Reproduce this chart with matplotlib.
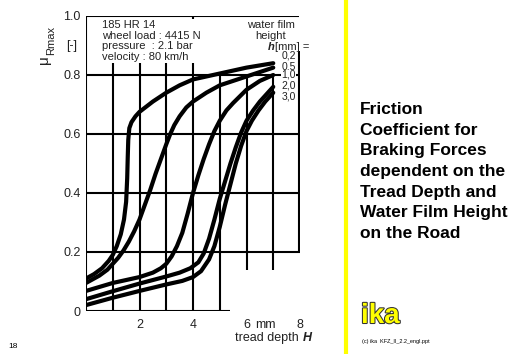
import numpy as np
import matplotlib.pyplot as plt
import matplotlib.patheffects as pe

plt.rcParams['font.family'] = ['Liberation Sans', 'DejaVu Sans']

# water film height labels (legend, top right)
film_labels = ['0,2', '0,5', '1,0', '2,0', '3,0']

# curves: tread depth H [mm] -> mu_Rmax [-]
depth_02 = [0, 0.3, 0.6, 0.85, 1.0, 1.15, 1.3, 1.42, 1.5, 1.54, 1.56, 1.58, 1.62, 1.7, 1.85,
            2.0, 2.5, 3.0, 3.5, 4.0, 5.0, 6.0, 7.0]
mu_02 = [0.11, 0.125, 0.145, 0.17, 0.19, 0.22, 0.26, 0.31, 0.37, 0.45, 0.52, 0.58, 0.62, 0.64, 0.66,
         0.675, 0.71, 0.74, 0.765, 0.785, 0.805, 0.825, 0.84]

depth_05 = [0, 0.5, 0.8, 1.0, 1.2, 1.4, 1.6, 1.8, 2.0, 2.2, 2.4, 2.6, 2.8, 3.0, 3.15, 3.3, 3.5,
            3.75, 4.0, 4.5, 5.0, 5.5, 6.0, 6.5, 7.0]
mu_05 = [0.095, 0.12, 0.14, 0.16, 0.18, 0.205, 0.235, 0.27, 0.31, 0.36, 0.41, 0.465, 0.515, 0.565,
         0.6, 0.63, 0.66, 0.69, 0.71, 0.74, 0.765, 0.78, 0.795, 0.81, 0.825]

depth_10 = [0, 1, 2, 2.5, 2.8, 3.0, 3.2, 3.4, 3.6, 3.8, 4.0, 4.2, 4.4, 4.6, 4.8, 5.0, 5.25, 5.5,
            6.0, 6.5, 7.0]
mu_10 = [0.068, 0.095, 0.115, 0.13, 0.145, 0.16, 0.185, 0.22, 0.265, 0.33, 0.4, 0.46, 0.515, 0.565,
         0.61, 0.645, 0.68, 0.705, 0.75, 0.78, 0.80]

depth_20 = [0, 1, 2, 3, 3.5, 3.9, 4.2, 4.4, 4.6, 4.8, 5.0, 5.2, 5.4, 5.6, 5.8, 6.0, 6.25, 6.5,
            6.75, 7.0]
mu_20 = [0.04, 0.067, 0.093, 0.117, 0.13, 0.145, 0.165, 0.195, 0.245, 0.31, 0.38, 0.44, 0.5, 0.555,
         0.605, 0.645, 0.68, 0.71, 0.735, 0.76]

depth_30 = [0, 1, 2, 3, 3.6, 4.0, 4.3, 4.6, 4.8, 5.0, 5.2, 5.4, 5.6, 5.8, 6.0, 6.2, 6.45, 6.7, 7.0]
mu_30 = [0.02, 0.045, 0.068, 0.09, 0.102, 0.115, 0.135, 0.175, 0.22, 0.285, 0.36, 0.43, 0.5, 0.56,
         0.61, 0.645, 0.68, 0.71, 0.74]

x_ticks = [2, 4, 6, 8]
y_ticks = [0, 0.2, 0.4, 0.6, 0.8, 1.0]
y_ticklabels = ['0', '0.2', '0.4', '0.6', '0.8', '1.0']

fig = plt.figure(figsize=(5.12, 3.54), dpi=100)
ax = fig.add_axes([86 / 512, 43 / 354, 214 / 512, 295 / 354])
ax.set_xlim(0, 8)
ax.set_ylim(0, 1)
for s in ax.spines.values():
    s.set_visible(False)

# grid / frame as in the scan
lw = 1.5
for yy in [0.2, 0.4, 0.6, 0.8]:
    ax.hlines(yy, 0, 8, color='black', lw=lw)
ax.hlines(1.0, 0, 7.95, color='black', lw=lw)
ax.hlines(0, 0, 5.4, color='black', lw=lw)
ax.vlines(0, 0, 1, color='black', lw=lw)
ax.vlines([1, 2, 3], 0, 0.845, color='black', lw=lw)
ax.vlines(4, 0, 0.845, color='black', lw=lw)
ax.vlines(4, 0.965, 1.0, color='black', lw=lw)
ax.vlines(5, 0, 0.8, color='black', lw=lw)
ax.vlines([6, 7], 0.14, 0.8, color='black', lw=lw)
ax.vlines(7.95, 0.2, 0.88, color='black', lw=lw)

curves = [(depth_02, mu_02), (depth_05, mu_05), (depth_10, mu_10),
          (depth_20, mu_20), (depth_30, mu_30)]
for d, m in curves:
    ax.plot(d, m, color='black', lw=3, solid_capstyle='round', solid_joinstyle='round', zorder=3)

ax.set_xticks(x_ticks)
ax.set_yticks(y_ticks)
ax.set_yticklabels(y_ticklabels)
ax.tick_params(length=0, labelsize=9, colors='#222222', pad=4)
ax.tick_params(axis='x', pad=6)
ax.text(6.7, -0.027, 'mm', ha='center', va='top', fontsize=9, color='#222222')
ax.text(8.1, -0.071, 'tread depth ', ha='right', va='top', fontsize=9, color='#222222')
ax.text(8.12, -0.071, 'H', ha='left', va='top', fontsize=9,
        fontweight='bold', fontstyle='italic', color='#222222')

# text blocks
ax.text(0.6, 0.985, '185 HR 14\nwheel load : 4415 N\npressure  : 2.1 bar\nvelocity : 80 km/h',
        ha='left', va='top', fontsize=8, linespacing=1.05, color='#222222', zorder=4,
        bbox=dict(facecolor='white', edgecolor='none', pad=1))
ax.text(7.8, 0.985, 'water film\nheight', ha='right', va='top', fontsize=8,
        linespacing=1.05, color='#222222', zorder=4, multialignment='center',
        bbox=dict(facecolor='white', edgecolor='none', pad=1))
ax.text(7.05, 0.895, 'h', ha='right', va='center', fontsize=8, fontweight='bold',
        fontstyle='italic', color='#222222', zorder=5)
ax.text(7.05, 0.895, '[mm] =', ha='left', va='center', fontsize=8, color='#222222', zorder=5)
label_y = [0.865, 0.83, 0.8, 0.765, 0.728]
for lab, ly in zip(film_labels, label_y):
    ax.text(7.3, ly, lab, ha='left', va='center', fontsize=7.5, color='#222222', zorder=5,
            bbox=dict(facecolor='white', edgecolor='none', pad=0.3))

# y label
fig.text(44 / 512, 1 - 60 / 354, '\u03bc', rotation=90, ha='center', va='center',
         fontsize=11, color='#222222')
fig.text(51 / 512, 1 - 40 / 354, 'Rmax', rotation=90, ha='center', va='center',
         fontsize=8, color='#222222')
fig.text(72 / 512, 1 - 46 / 354, '[-]', ha='center', va='center', fontsize=9, color='#222222')

# right panel
fig.add_artist(plt.Line2D([346 / 512, 346 / 512], [0, 1], color='#ffff00', lw=3))
fig.text(360 / 512, 1 - 102 / 354,
         'Friction\nCoefficient for\nBraking Forces\ndependent on the\nTread Depth and\nWater Film Height\non the Road',
         ha='left', va='top', fontsize=12.5, fontweight='bold', linespacing=1.47, color='black')
fig.text(361 / 512, 1 - 323 / 354, 'ika', ha='left', va='baseline', fontsize=20,
         fontweight='bold', color='#ffff00',
         path_effects=[pe.withStroke(linewidth=1.5, foreground='#333333')])
fig.text(362 / 512, 1 - 342 / 354, '(c) ika  KFZ_II_2.2_engl.ppt', ha='left', va='center',
         fontsize=4, color='black')
fig.text(8 / 512, 1 - 346 / 354, '18', ha='left', va='center', fontsize=6, color='black')

fig.savefig('out.png', dpi=100)
